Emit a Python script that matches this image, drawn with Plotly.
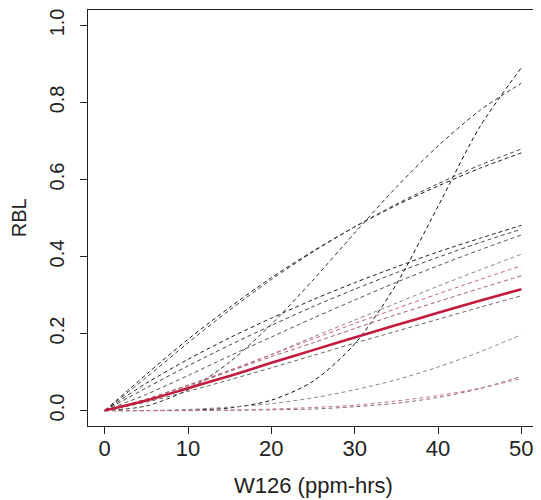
import plotly.graph_objects as go

# W126 exposure grid (ppm-hrs)
w126 = [0, 5, 10, 15, 20, 25, 30, 35, 40, 45, 50]

# Individual RBL curves (values at each W126 point)
curve_a = [0, 0.000, 0.001, 0.007, 0.027, 0.076, 0.173, 0.328, 0.530, 0.736, 0.890]
curve_b = [0, 0.012, 0.054, 0.126, 0.224, 0.339, 0.461, 0.580, 0.687, 0.779, 0.850]
curve_c1 = [0, 0.094, 0.185, 0.268, 0.345, 0.414, 0.477, 0.533, 0.583, 0.629, 0.669]
curve_c2 = [0, 0.086, 0.176, 0.261, 0.340, 0.412, 0.477, 0.536, 0.589, 0.637, 0.679]
curve_d1 = [0, 0.071, 0.133, 0.189, 0.240, 0.288, 0.332, 0.373, 0.412, 0.447, 0.481]
curve_d2 = [0, 0.059, 0.116, 0.170, 0.221, 0.270, 0.315, 0.358, 0.398, 0.436, 0.471]
curve_d3 = [0, 0.042, 0.091, 0.142, 0.191, 0.240, 0.287, 0.333, 0.376, 0.417, 0.456]
curve_e1 = [0, 0.026, 0.062, 0.103, 0.146, 0.191, 0.235, 0.279, 0.323, 0.365, 0.406]
curve_e2 = [0, 0.029, 0.066, 0.105, 0.145, 0.186, 0.226, 0.265, 0.303, 0.340, 0.376]
curve_e3 = [0, 0.030, 0.066, 0.102, 0.140, 0.176, 0.213, 0.249, 0.283, 0.317, 0.350]
curve_f = [0, 0.022, 0.050, 0.080, 0.111, 0.143, 0.175, 0.206, 0.237, 0.268, 0.298]
curve_g = [0, 0.000, 0.003, 0.009, 0.018, 0.033, 0.054, 0.080, 0.113, 0.152, 0.197]
curve_h1 = [0, 0.000, 0.000, 0.001, 0.002, 0.004, 0.010, 0.019, 0.034, 0.057, 0.089]
curve_h2 = [0, 0.000, 0.000, 0.001, 0.004, 0.008, 0.014, 0.025, 0.039, 0.058, 0.083]

# Median composite curve
median_curve = [0, 0.026, 0.058, 0.090, 0.124, 0.157, 0.190, 0.222, 0.254, 0.285, 0.315]

x_ticks = [0, 10, 20, 30, 40, 50]
y_ticks = [0.0, 0.2, 0.4, 0.6, 0.8, 1.0]
y_tick_text = ["0.0", "0.2", "0.4", "0.6", "0.8", "1.0"]

dashed = [
    (curve_a, "#111111"),
    (curve_b, "#333333"),
    (curve_c1, "#1a1a1a"),
    (curve_c2, "#444444"),
    (curve_d1, "#222222"),
    (curve_d2, "#444444"),
    (curve_d3, "#555555"),
    (curve_e1, "#9a8088"),
    (curve_e2, "#c9657f"),
    (curve_e3, "#a0606f"),
    (curve_f, "#666666"),
    (curve_g, "#888888"),
    (curve_h1, "#8a6a72"),
    (curve_h2, "#c87890"),
]

fig = go.Figure()
for ys, col in dashed:
    fig.add_trace(go.Scatter(
        x=w126, y=ys, mode="lines",
        line=dict(color=col, width=1, dash="4px,3px", shape="spline", smoothing=0.8),
        showlegend=False, hoverinfo="skip"))

fig.add_trace(go.Scatter(
    x=w126, y=median_curve, mode="lines",
    line=dict(color="#C41A3C", width=2.6, shape="spline", smoothing=0.8),
    showlegend=False))

# page body has an 8px margin, so the figure is sized to end at the window edge
fig.update_layout(
    width=533, height=492,
    margin=dict(l=80, r=3, t=2, b=74),
    plot_bgcolor="white", paper_bgcolor="white",
    font=dict(family="Liberation Sans, Arial, sans-serif", color="#222222"),
    showlegend=False,
)
fig.update_xaxes(
    range=[-2, 52], tickvals=x_ticks, ticks="outside", ticklen=7, tickcolor="#222",
    tickfont=dict(size=22), ticklabelstandoff=-4, showgrid=False, zeroline=False,
    showline=True, linecolor="#222", linewidth=1, mirror=True,
)
fig.update_yaxes(
    range=[-0.04, 1.04], tickvals=y_ticks, ticktext=y_tick_text, ticks="outside",
    ticklen=7, tickcolor="#222", tickangle=-90, tickfont=dict(size=20),
    ticklabelstandoff=8, showgrid=False, zeroline=False,
    showline=True, linecolor="#222", linewidth=1, mirror=True,
)
fig.add_annotation(text="W126 (ppm-hrs)", xref="paper", yref="paper", x=0.5, y=-0.1427,
                   showarrow=False, font=dict(size=22), xanchor="center", yanchor="middle")
fig.add_annotation(text="RBL", xref="paper", yref="paper", x=-0.1527, y=0.5, textangle=-90,
                   showarrow=False, font=dict(size=20), xanchor="center", yanchor="middle")

fig.write_html("out.html")
